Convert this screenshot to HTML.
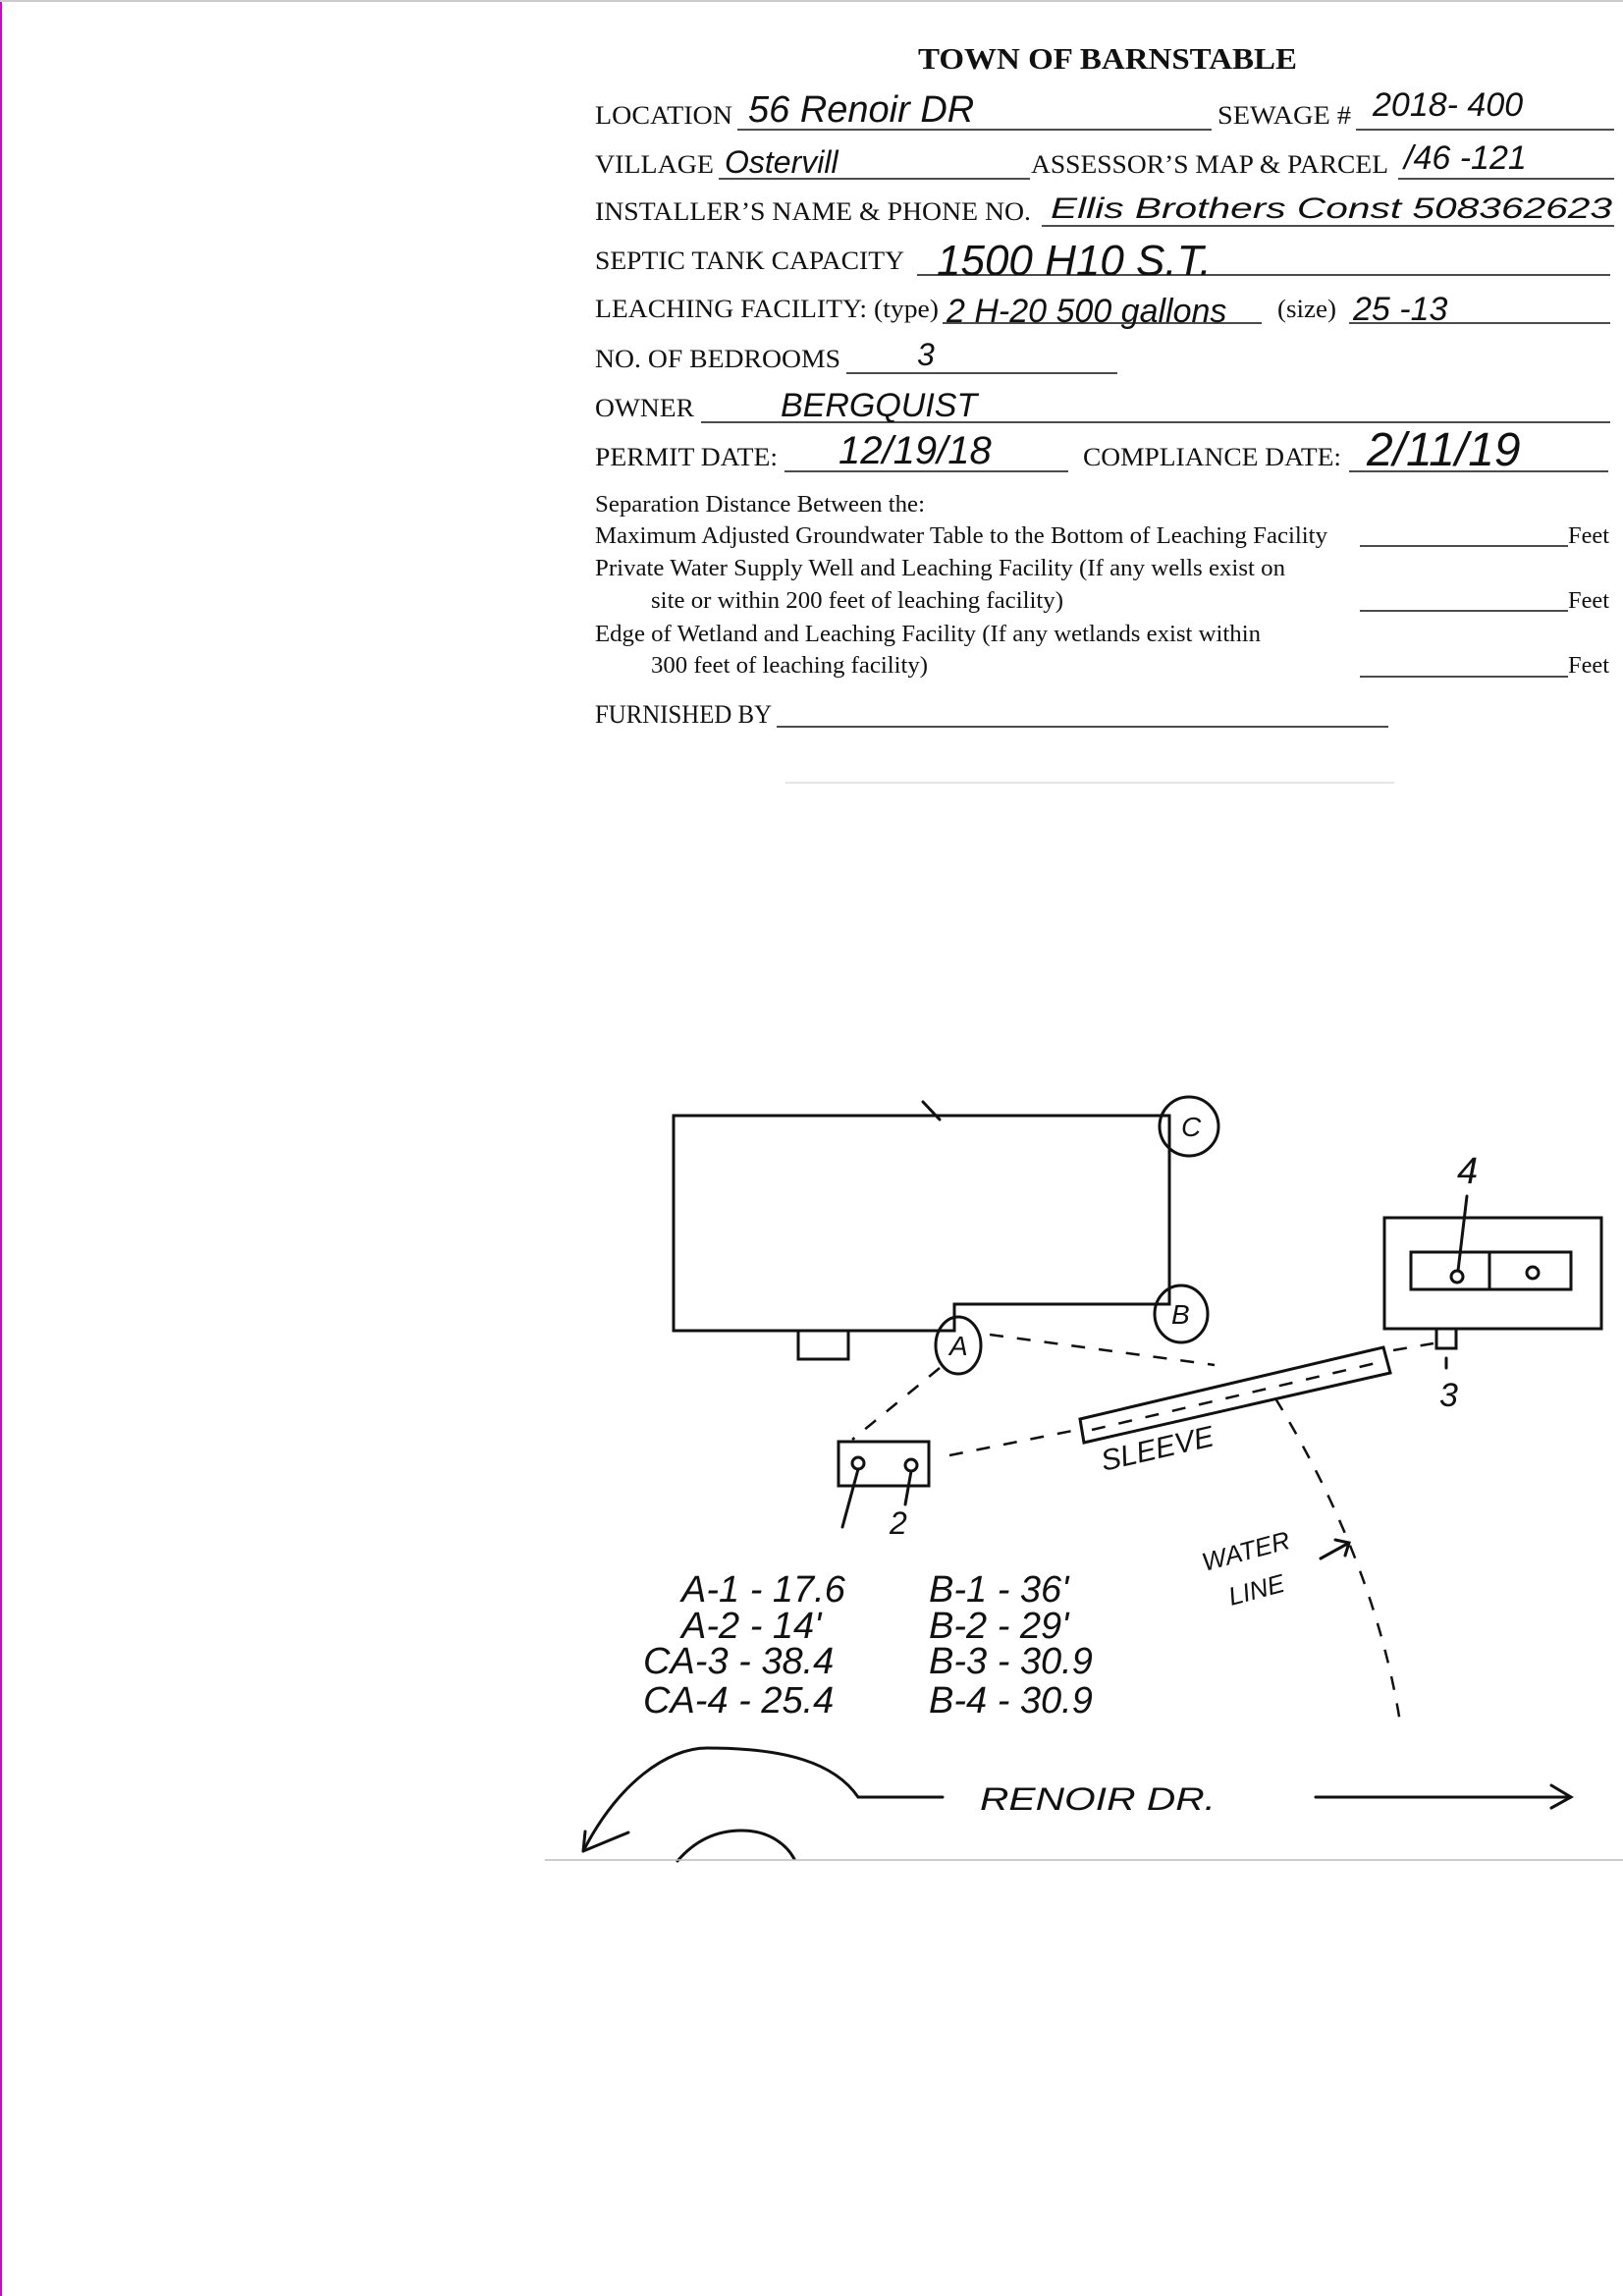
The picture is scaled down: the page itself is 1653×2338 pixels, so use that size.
<!DOCTYPE html>
<html><head><meta charset="utf-8"><style>
html,body{margin:0;padding:0;background:#fff}
svg{display:block}
.f{font-family:"Liberation Serif",serif;font-size:26px;fill:#111}
.h{font-family:"Liberation Sans",sans-serif;fill:#111;font-style:italic}
.ln{stroke:#111;stroke-width:1.5}
.d{stroke:#111;stroke-width:3;fill:none;stroke-linecap:round}
.ds{stroke:#111;stroke-width:2.5;fill:none;stroke-dasharray:14 14}
</style></head><body>
<svg width="1653" height="2338" viewBox="0 0 1653 2338" xmlns="http://www.w3.org/2000/svg">
<rect x="0" y="0" width="1653" height="2338" fill="#fff"/>
<rect x="0" y="0" width="2" height="2338" fill="#d400d4"/>
<line x1="0" y1="1" x2="1653" y2="1" stroke="#ccc" stroke-width="2"/>

<text x="1128" y="70" text-anchor="middle" font-family="Liberation Serif,serif" font-weight="bold" font-size="31" fill="#111" textLength="386" lengthAdjust="spacingAndGlyphs">TOWN OF BARNSTABLE</text>

<g class="f">
<text x="606" y="126" textLength="140" lengthAdjust="spacingAndGlyphs">LOCATION</text>
<text x="1240" y="126" textLength="136" lengthAdjust="spacingAndGlyphs">SEWAGE #</text>
<text x="606" y="176" textLength="121" lengthAdjust="spacingAndGlyphs">VILLAGE</text>
<text x="1050" y="176" textLength="364" lengthAdjust="spacingAndGlyphs">ASSESSOR’S MAP &amp; PARCEL</text>
<text x="606" y="224" textLength="444" lengthAdjust="spacingAndGlyphs">INSTALLER’S NAME &amp; PHONE NO.</text>
<text x="606" y="274" textLength="315" lengthAdjust="spacingAndGlyphs">SEPTIC TANK CAPACITY</text>
<text x="606" y="323" textLength="350" lengthAdjust="spacingAndGlyphs">LEACHING FACILITY: (type)</text>
<text x="1301" y="323" textLength="60" lengthAdjust="spacingAndGlyphs">(size)</text>
<text x="606" y="374" textLength="250" lengthAdjust="spacingAndGlyphs">NO. OF BEDROOMS</text>
<text x="606" y="424" textLength="101" lengthAdjust="spacingAndGlyphs">OWNER</text>
<text x="606" y="474" textLength="186" lengthAdjust="spacingAndGlyphs">PERMIT DATE:</text>
<text x="1103" y="474" textLength="263" lengthAdjust="spacingAndGlyphs">COMPLIANCE DATE:</text>
<text x="606" y="521" font-size="24" textLength="336" lengthAdjust="spacingAndGlyphs">Separation Distance Between the:</text>
<text x="606" y="553" font-size="24" textLength="746" lengthAdjust="spacingAndGlyphs">Maximum Adjusted Groundwater Table to the Bottom of Leaching Facility</text>
<text x="1597" y="553" font-size="24" textLength="42" lengthAdjust="spacingAndGlyphs">Feet</text>
<text x="606" y="586" font-size="24" textLength="703" lengthAdjust="spacingAndGlyphs">Private Water Supply Well and Leaching Facility (If any wells exist on</text>
<text x="663" y="619" font-size="24" textLength="420" lengthAdjust="spacingAndGlyphs">site or within 200 feet of leaching facility)</text>
<text x="1597" y="619" font-size="24" textLength="42" lengthAdjust="spacingAndGlyphs">Feet</text>
<text x="606" y="653" font-size="24" textLength="678" lengthAdjust="spacingAndGlyphs">Edge of Wetland and Leaching Facility (If any wetlands exist within</text>
<text x="663" y="685" font-size="24" textLength="282" lengthAdjust="spacingAndGlyphs">300 feet of leaching facility)</text>
<text x="1597" y="685" font-size="24" textLength="42" lengthAdjust="spacingAndGlyphs">Feet</text>
<text x="606" y="736" textLength="180" lengthAdjust="spacingAndGlyphs">FURNISHED BY</text>
</g>

<g class="ln">
<line x1="751" y1="132" x2="1234" y2="132"/>
<line x1="1381" y1="132" x2="1644" y2="132"/>
<line x1="732" y1="182" x2="1049" y2="182"/>
<line x1="1424" y1="182" x2="1644" y2="182"/>
<line x1="1061" y1="230" x2="1644" y2="230"/>
<line x1="934" y1="280" x2="1640" y2="280"/>
<line x1="960" y1="329" x2="1285" y2="329"/>
<line x1="1374" y1="329" x2="1640" y2="329"/>
<line x1="862" y1="380" x2="1138" y2="380"/>
<line x1="714" y1="430" x2="1640" y2="430"/>
<line x1="799" y1="480" x2="1088" y2="480"/>
<line x1="1374" y1="480" x2="1638" y2="480"/>
<line x1="1385" y1="556" x2="1597" y2="556"/>
<line x1="1385" y1="622" x2="1597" y2="622"/>
<line x1="1385" y1="689" x2="1597" y2="689"/>
<line x1="791" y1="740" x2="1414" y2="740"/>
</g>

<g class="h">
<text x="762" y="124" font-size="38">56 Renoir DR</text>
<text x="1398" y="118" font-size="34">2018- 400</text>
<text x="738" y="176" font-size="32">Ostervill</text>
<text x="1430" y="172" font-size="34">/46 -121</text>
<text x="1070" y="222" font-size="30" textLength="572" lengthAdjust="spacingAndGlyphs">Ellis Brothers  Const 508362623</text>
<text x="954" y="280" font-size="44">1500 H10  S.T.</text>
<text x="964" y="328" font-size="34">2 H-20 500 gallons</text>
<text x="1378" y="326" font-size="34">25 -13</text>
<text x="934" y="372" font-size="32">3</text>
<text x="795" y="424" font-size="34">BERGQUIST</text>
<text x="854" y="472" font-size="40">12/19/18</text>
<text x="1392" y="474" font-size="48">2/11/19</text>
</g>

<!-- house -->
<path class="d" d="M686 1136 L1191 1136 L1191 1328 L972 1328 L972 1355 L686 1355 Z"/>
<path class="d" d="M940 1122 L957 1140"/>
<rect class="d" x="813" y="1355" width="51" height="29"/>
<ellipse class="d" cx="1211" cy="1147" rx="30" ry="30"/>
<ellipse class="d" cx="1203" cy="1338" rx="27" ry="29"/>
<ellipse class="d" cx="976" cy="1370" rx="23" ry="29"/>
<g class="h" font-size="28">
<text x="1203" y="1157">C</text>
<text x="1193" y="1348">B</text>
<text x="967" y="1380">A</text>
</g>

<!-- right box -->
<rect class="d" x="1410" y="1240" width="221" height="113"/>
<rect class="d" x="1437" y="1275" width="163" height="38"/>
<line class="d" x1="1517" y1="1275" x2="1517" y2="1313"/>
<circle class="d" cx="1484" cy="1300" r="6"/>
<circle class="d" cx="1561" cy="1296" r="6"/>
<line class="d" x1="1494" y1="1218" x2="1485" y2="1294"/>
<text class="h" x="1484" y="1205" font-size="38">4</text>
<rect class="d" x="1463" y="1353" width="20" height="20"/>
<line class="d" x1="1473" y1="1383" x2="1473" y2="1393"/>
<text class="h" x="1466" y="1432" font-size="34">3</text>

<!-- sleeve -->
<path class="d" d="M1100 1445 L1409 1372 L1416 1398 L1104 1469 Z"/>
<line class="ds" x1="1112" y1="1456" x2="1410" y2="1386"/>
<text class="h" x="1124" y="1498" font-size="30" transform="rotate(-13 1124 1498)">SLEEVE</text>

<!-- dashed connections -->
<line class="ds" x1="1008" y1="1359" x2="1237" y2="1390"/>
<line class="ds" x1="1419" y1="1375" x2="1460" y2="1368"/>
<line class="ds" x1="957" y1="1393" x2="868" y2="1466"/>
<line class="ds" x1="967" y1="1482" x2="1097" y2="1456"/>
<path class="ds" d="M1299 1424 Q1400 1590 1426 1754" stroke-dasharray="20 40"/>

<!-- small box -->
<rect class="d" x="854" y="1468" width="92" height="45"/>
<circle class="d" cx="874" cy="1490" r="6"/>
<circle class="d" cx="928" cy="1492" r="6"/>
<line class="d" x1="874" y1="1496" x2="858" y2="1555"/>
<line class="d" x1="928" y1="1498" x2="922" y2="1532"/>
<text class="h" x="906" y="1562" font-size="32">2</text>

<!-- water line label -->
<text class="h" x="1227" y="1600" font-size="26" transform="rotate(-15 1227 1600)">WATER</text>
<text class="h" x="1254" y="1635" font-size="26" transform="rotate(-15 1254 1635)">LINE</text>
<path class="d" d="M1345 1587 L1374 1571 M1360 1568 L1374 1571 L1370 1584"/>

<!-- measurements -->
<g class="h" font-size="38">
<text x="694" y="1631">A-1 - 17.6</text>
<text x="694" y="1668">A-2 - 14'</text>
<text x="655" y="1704">CA-3 - 38.4</text>
<text x="655" y="1744">CA-4 - 25.4</text>
<text x="946" y="1631">B-1 - 36'</text>
<text x="946" y="1668">B-2 - 29'</text>
<text x="946" y="1704">B-3 - 30.9</text>
<text x="946" y="1744">B-4 - 30.9</text>
</g>

<!-- road -->
<path class="d" d="M594 1885 C630 1815 680 1780 720 1780 C800 1780 850 1795 874 1830 L960 1830"/>
<path class="d" d="M594 1885 L596 1865 M594 1885 L640 1866"/>
<path class="d" d="M690 1895 C708 1874 730 1864 755 1864 C785 1864 802 1880 809 1893"/>
<text class="h" x="998" y="1843" font-size="32" textLength="240" lengthAdjust="spacingAndGlyphs">RENOIR DR.</text>
<path class="d" d="M1340 1830 L1600 1830 M1580 1818 L1600 1830 L1580 1841"/>
<line x1="555" y1="1894" x2="1653" y2="1894" stroke="#bbb" stroke-width="1.5"/>
<line x1="800" y1="797" x2="1420" y2="797" stroke="#ddd" stroke-width="1.5"/>
</svg>
</body></html>
